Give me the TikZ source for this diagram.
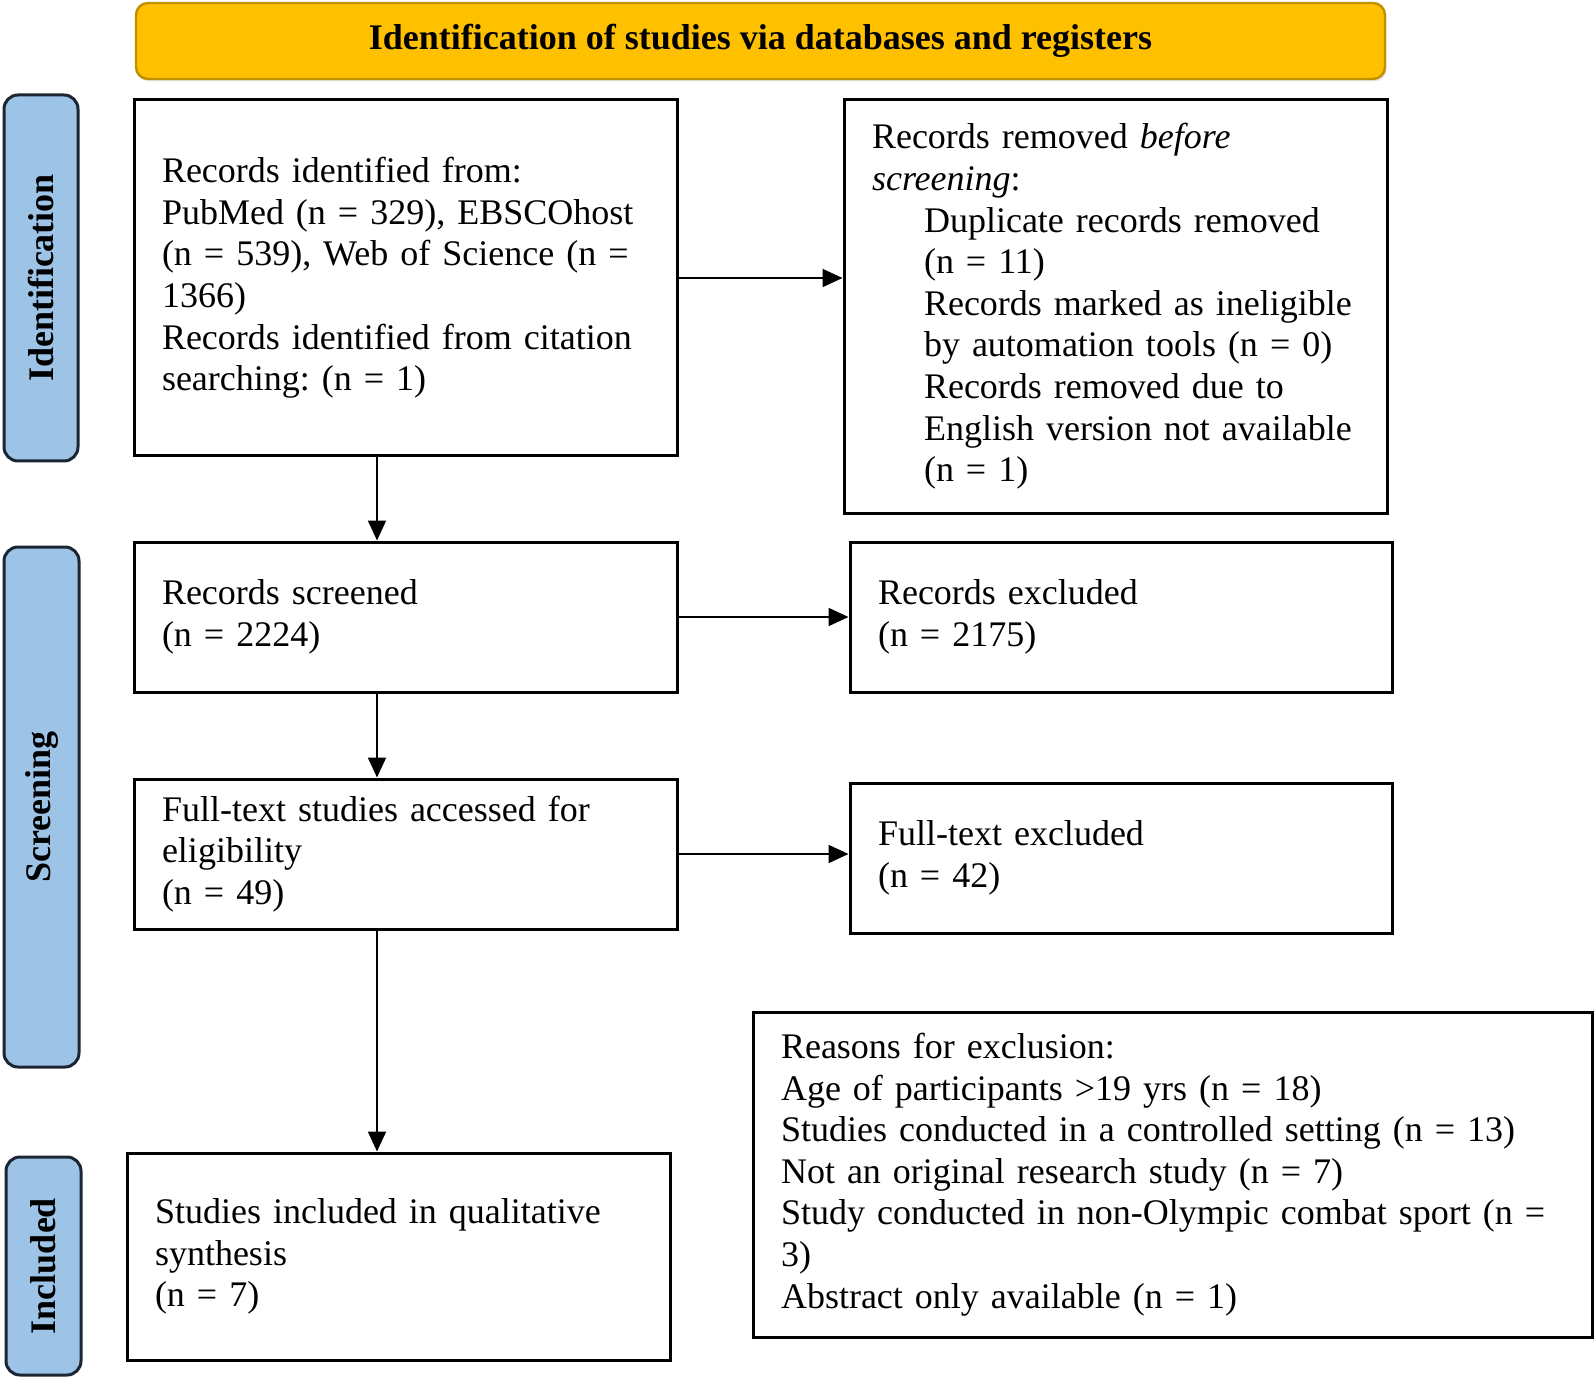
\documentclass[tikz,border=0pt]{standalone}
\usepackage{fontspec}
\setmainfont{Liberation Serif}
\usetikzlibrary{arrows.meta,shadows}
\definecolor{headgold}{HTML}{FFC000}
\definecolor{headedge}{HTML}{C09000}
\definecolor{sideblue}{HTML}{9DC3E6}
\definecolor{sideedge}{HTML}{1C2633}
\frenchspacing

\begin{document}
\begin{tikzpicture}[x=0.5pt,y=-0.5pt,
	font=\fontsize{18}{20.8}\selectfont,
	box/.style={draw=black,line width=1.5pt,rectangle,align=left,inner xsep=14pt,inner ysep=0pt},
	header/.style={draw=headedge,fill=headgold,line width=1.2pt,rounded corners=6pt,font=\fontsize{18}{20.8}\selectfont\bfseries,drop shadow={opacity=0.2,shadow xshift=0.8pt,shadow yshift=-1.2pt}},
	phase/.style={draw=sideedge,fill=sideblue,line width=1.5pt,rounded corners=7pt,rotate=90,inner sep=0pt,font=\fontsize{18}{20.8}\selectfont\bfseries},
	arr/.style={line width=1pt,-{Triangle[length=10pt,width=9pt]}}]
	\useasboundingbox (0,0) rectangle (1594,1379);

	\node[header,minimum width=624.5pt,minimum height=38pt] (head) at (760.5,41) {Identification of studies via databases and registers};

	\node[phase,minimum width=183pt,minimum height=37pt] (pident) at (41,278) {Identification};
	\node[phase,minimum width=260pt,minimum height=37.5pt] (pscreen) at (41.5,807) {Screening};
	\node[phase,minimum width=109pt,minimum height=37.5pt] (pincl) at (43.5,1266) {Included};

	\node[box,text width=243.5pt,minimum height=178pt] (ident) at (405.5,278) {Records identified from:\\PubMed (n = 329), EBSCOhost\\(n = 539), Web of Science (n =\\1366)\\Records identified from citation\\searching: (n = 1)};
	\node[box,text width=243.5pt,minimum height=206.5pt] (removed) at (1115.5,306.5) {Records removed \textit{before}\\\textit{screening}:\\
		\hspace*{26pt}Duplicate records removed\\\hspace*{26pt}(n = 11)\\
		\hspace*{26pt}Records marked as ineligible\\\hspace*{26pt}by automation tools (n = 0)\\
		\hspace*{26pt}Records removed due to\\\hspace*{26pt}English version not available\\\hspace*{26pt}(n = 1)};
	\node[box,text width=243.5pt,minimum height=75pt] (screen) at (405.5,617) {Records screened\\(n = 2224)};
	\node[box,text width=243pt,minimum height=75pt] (excl) at (1121,617) {Records excluded\\(n = 2175)};
	\node[box,text width=243.5pt,minimum height=75pt] (full) at (405.5,854) {Full-text studies accessed for\\eligibility\\(n = 49)};
	\node[box,text width=243pt,minimum height=75pt] (fullexcl) at (1121,858) {Full-text excluded\\(n = 42)};
	\node[box,text width=391.5pt,minimum height=162.5pt] (reasons) at (1172.5,1174.5) {Reasons for exclusion:\\Age of participants >19 yrs (n = 18)\\Studies conducted in a controlled setting (n = 13)\\Not an original research study (n = 7)\\Study conducted in non-Olympic combat sport (n =\\3)\\Abstract only available (n = 1)};
	\node[box,text width=243.5pt,minimum height=103.5pt] (incl) at (398.5,1256.5) {Studies included in qualitative\\synthesis\\(n = 7)};

	\coordinate (vx) at (377,0);
	\draw[arr] (ident.east) -- (ident.east -| removed.west);
	\draw[arr] (screen.east) -- (excl.west);
	\draw[arr] (full.east) -- (full.east -| fullexcl.west);
	\draw[arr] (ident.south -| vx) -- (screen.north -| vx);
	\draw[arr] (screen.south -| vx) -- (full.north -| vx);
	\draw[arr] (full.south -| vx) -- (incl.north -| vx);
\end{tikzpicture}
\end{document}
